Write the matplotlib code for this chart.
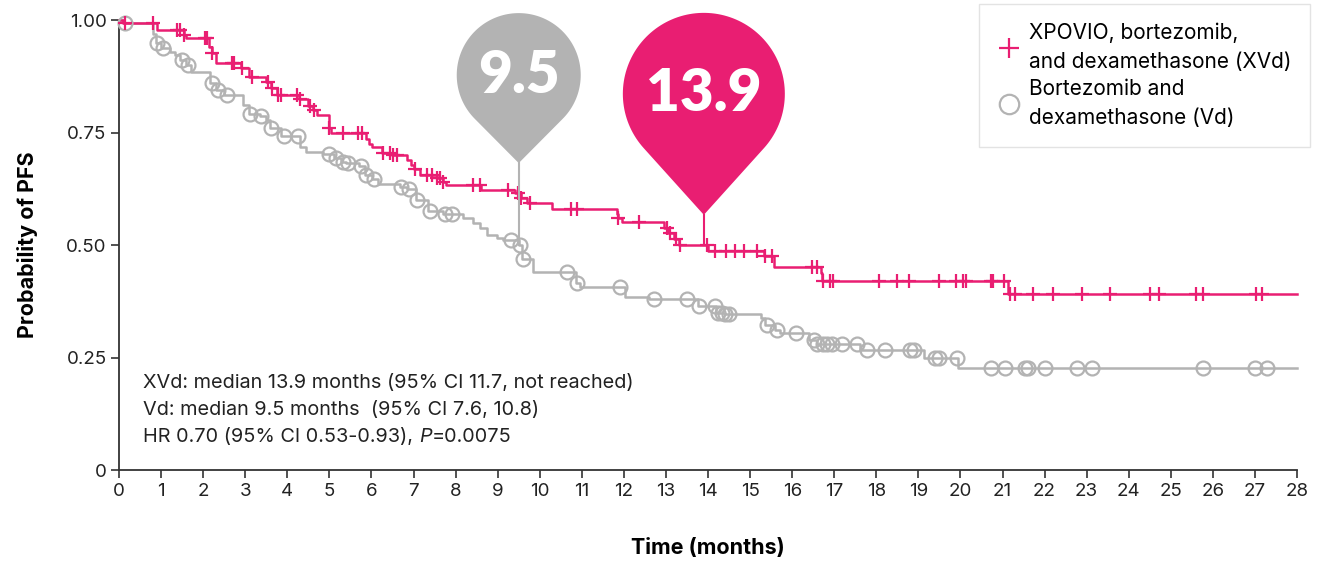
import numpy as np
import matplotlib.pyplot as plt
import matplotlib.transforms as mtransforms
from matplotlib.patches import Polygon
from matplotlib.lines import Line2D

plt.rcParams['font.family'] = ['Inter', 'DejaVu Sans']

PINK = '#E91E72'
GRAY = '#B3B3B3'

# XVd arm: step times (months) and survival after each step
xvd_t = [0, 0.10, 0.90, 1.55, 1.60, 2.14, 2.20, 2.30, 2.90, 3.10, 3.50, 3.60, 3.75, 4.28, 4.50,
         4.62, 4.70, 4.98, 5.04, 5.88, 5.95, 6.02, 6.25, 6.48, 6.85, 6.95, 7.02, 7.15, 7.55, 7.70,
         7.78, 8.60, 9.40, 9.55, 9.70, 10.29, 11.83, 11.86, 11.95, 12.95, 13.05, 13.20, 13.30, 13.99,
         15.32, 15.57, 16.68, 16.72, 21.12]
xvd_s = [1.0, 0.993, 0.978, 0.967, 0.96, 0.94, 0.927, 0.905, 0.893, 0.874, 0.862, 0.849, 0.833, 0.824,
         0.81, 0.80, 0.789, 0.76, 0.748, 0.735, 0.725, 0.717, 0.704, 0.70, 0.69, 0.678, 0.668, 0.656,
         0.648, 0.641, 0.633, 0.622, 0.616, 0.604, 0.594, 0.581, 0.57, 0.559, 0.552, 0.537, 0.526,
         0.513, 0.50, 0.487, 0.476, 0.452, 0.438, 0.421, 0.391]
xvd_cens = [0.15, 0.8, 1.37, 1.45, 1.55, 2.04, 2.09, 2.2, 2.68, 2.73, 2.92, 3.15, 3.54, 3.63, 3.78,
            3.84, 4.22, 4.3, 4.54, 4.64, 5.0, 5.33, 5.69, 5.77, 6.28, 6.44, 6.52, 6.60, 7.04, 7.31,
            7.45, 7.55, 7.63, 7.71, 8.42, 8.58, 9.25, 9.49, 9.55, 9.77, 10.74, 10.89, 11.87, 12.37,
            13.02, 13.09, 13.25, 13.33, 13.97, 14.17, 14.43, 14.64, 14.86, 15.17, 15.36, 15.51,
            16.47, 16.59, 16.73, 16.90, 16.97, 18.07, 18.49, 18.78, 19.49, 19.90, 20.07, 20.13,
            20.73, 20.78, 21.03, 21.18, 21.30, 21.72, 22.21, 22.89, 23.56, 24.51, 24.73, 25.60,
            25.77, 27.03, 27.17]

# Vd arm
vd_t = [0, 0.10, 0.80, 0.88, 1.00, 1.22, 1.32, 1.45, 1.60, 1.72, 2.15, 2.30, 2.50, 2.95, 3.08,
        3.35, 3.50, 3.58, 3.85, 4.30, 4.45, 4.85, 5.10, 5.28, 5.40, 5.70, 5.85, 6.02, 6.15, 6.68,
        6.85, 7.05, 7.35, 7.70, 8.18, 8.42, 8.58, 8.74, 8.98, 9.13, 9.50, 9.58, 9.85, 10.85, 10.95,
        12.03, 12.60, 13.75, 14.20, 14.40, 15.25, 15.35, 15.60, 15.72, 16.41, 16.58, 17.61, 19.13,
        19.95]
vd_s = [1.0, 0.993, 0.97, 0.949, 0.938, 0.93, 0.922, 0.911, 0.90, 0.885, 0.861, 0.844, 0.833,
        0.811, 0.791, 0.787, 0.778, 0.761, 0.742, 0.718, 0.707, 0.702, 0.694, 0.685, 0.682, 0.676,
        0.656, 0.646, 0.636, 0.628, 0.624, 0.60, 0.576, 0.569, 0.56, 0.549, 0.538, 0.522, 0.515,
        0.511, 0.50, 0.469, 0.441, 0.416, 0.407, 0.384, 0.379, 0.365, 0.35, 0.346, 0.338, 0.322,
        0.311, 0.304, 0.289, 0.279, 0.267, 0.25, 0.227]
vd_cens = [0.14, 0.9, 1.05, 1.49, 1.65, 2.2, 2.35, 2.56, 3.11, 3.37, 3.6, 3.92, 4.26, 4.98, 5.16,
           5.32, 5.45, 5.75, 5.87, 6.05, 6.70, 6.90, 7.09, 7.39, 7.75, 7.91, 9.31, 9.53, 9.61,
           10.64, 10.88, 11.91, 12.72, 13.49, 13.79, 14.17, 14.24, 14.32, 14.40, 14.50, 15.39,
           15.65, 16.09, 16.53, 16.60, 16.73, 16.83, 16.94, 17.18, 17.55, 17.79, 18.21, 18.80,
           18.90, 19.40, 19.49, 19.91, 20.72, 21.06, 21.54, 21.61, 22.01, 22.76, 23.12, 25.76,
           26.99, 27.28]

medians = {'XVd': 13.9, 'Vd': 9.5}
t_max = 28

fig = plt.figure(figsize=(13.2, 5.62), dpi=100)
ax = fig.add_axes([0.0902, 0.1637, 0.8924, 0.8007])


def km(ax, t, s, cens, color, marker, ms, mew):
    t = np.array(t + [t_max])
    s = np.array(s + [s[-1]])
    ax.step(t, s, where='post', color=color, lw=1.8, clip_on=False, zorder=3)
    c = np.array(cens)
    cy = s[np.searchsorted(t, c, side='right') - 1]
    ax.plot(c, cy, ls='none', marker=marker, ms=ms, mfc='none', mec=color, mew=mew,
            clip_on=False, zorder=4)


km(ax, vd_t, vd_s, vd_cens, GRAY, 'o', 10, 1.6)
km(ax, xvd_t, xvd_s, xvd_cens, PINK, '+', 10, 1.6)

ax.set_xlim(0, 28)
ax.set_ylim(0, 1.0)
ax.set_xticks(range(0, 29))
ax.set_yticks([0, 0.25, 0.5, 0.75, 1.0])
ax.set_yticklabels(['0', '0.25', '0.50', '0.75', '1.00'])
ax.tick_params(labelsize=13.5, length=6, width=1.2, color='#333333', labelcolor='#222222', pad=3)
for sp in ['top', 'right']:
    ax.spines[sp].set_visible(False)
for sp in ['left', 'bottom']:
    ax.spines[sp].set_color('#333333')
    ax.spines[sp].set_linewidth(1.3)

ax.set_ylabel('Probability of PFS', fontsize=15.5, fontweight='bold', labelpad=20)
ax.set_xlabel('Time (months)', fontsize=15.5, fontweight='bold', labelpad=28)


# teardrop pins, drawn in pixel units from the tip
def pin(x, y_tip, y_line, R, h, color, label, fs):
    ax.plot([x, x], [y_line, y_tip], color=color, lw=1.5, zorder=5, clip_on=False)
    th = np.arccos(R / h)
    a = np.linspace(-np.pi / 2 + th, 3 * np.pi / 2 - th, 120)
    verts = np.vstack([[0, 0], np.column_stack([R * np.cos(a), h + R * np.sin(a)])])
    tr = (mtransforms.Affine2D().scale(1 / fig.dpi) + fig.dpi_scale_trans
          + mtransforms.ScaledTranslation(x, y_tip, ax.transData))
    ax.add_patch(Polygon(verts, closed=True, fc=color, ec='none', transform=tr, zorder=6,
                         clip_on=False))
    ax.text(0, h, label, transform=tr, color='white', fontsize=fs, fontweight='heavy',
            family=['Lato', 'DejaVu Sans'], ha='center', va='center', zorder=7)


pin(medians['Vd'], 0.682, 0.50, 62, 88, GRAY, '9.5', 42)
pin(medians['XVd'], 0.567, 0.50, 81, 121, PINK, '13.9', 42)

# summary text
fs_txt = 14.3
ax.text(0.57, 0.193, 'XVd: median 13.9 months (95% CI 11.7, not reached)', fontsize=fs_txt,
        va='center', color='#222222')
ax.text(0.57, 0.133, 'Vd: median 9.5 months  (95% CI 7.6, 10.8)', fontsize=fs_txt,
        va='center', color='#222222')
t1 = ax.text(0.57, 0.073, 'HR 0.70 (95% CI 0.53-0.93), ', fontsize=fs_txt, va='center',
             color='#222222')
t2 = ax.annotate('P', xy=(1, 0.5), xycoords=t1, va='center', ha='left', fontsize=fs_txt,
                 style='italic', color='#222222')
ax.annotate('=0.0075', xy=(1, 0.5), xycoords=t2, va='center', ha='left', fontsize=fs_txt,
            color='#222222')

handles = [Line2D([], [], ls='none', marker='+', ms=14, mec=PINK, mew=1.6),
           Line2D([], [], ls='none', marker='o', ms=14, mfc='none', mec=GRAY, mew=1.6)]
leg = fig.legend(handles, ['XPOVIO, bortezomib,\nand dexamethasone (XVd)',
                           'Bortezomib and\ndexamethasone (Vd)'],
                 loc='upper right', bbox_to_anchor=(0.9924, 0.993), fontsize=15,
                 frameon=True, fancybox=False, edgecolor='#dddddd', handletextpad=0.4,
                 labelspacing=0.35, borderpad=0.9, handlelength=1.1, borderaxespad=0.0)
leg.get_frame().set_linewidth(1)
for t in leg.get_texts():
    t.set_linespacing(1.55)

fig.savefig('out.png', dpi=100)
